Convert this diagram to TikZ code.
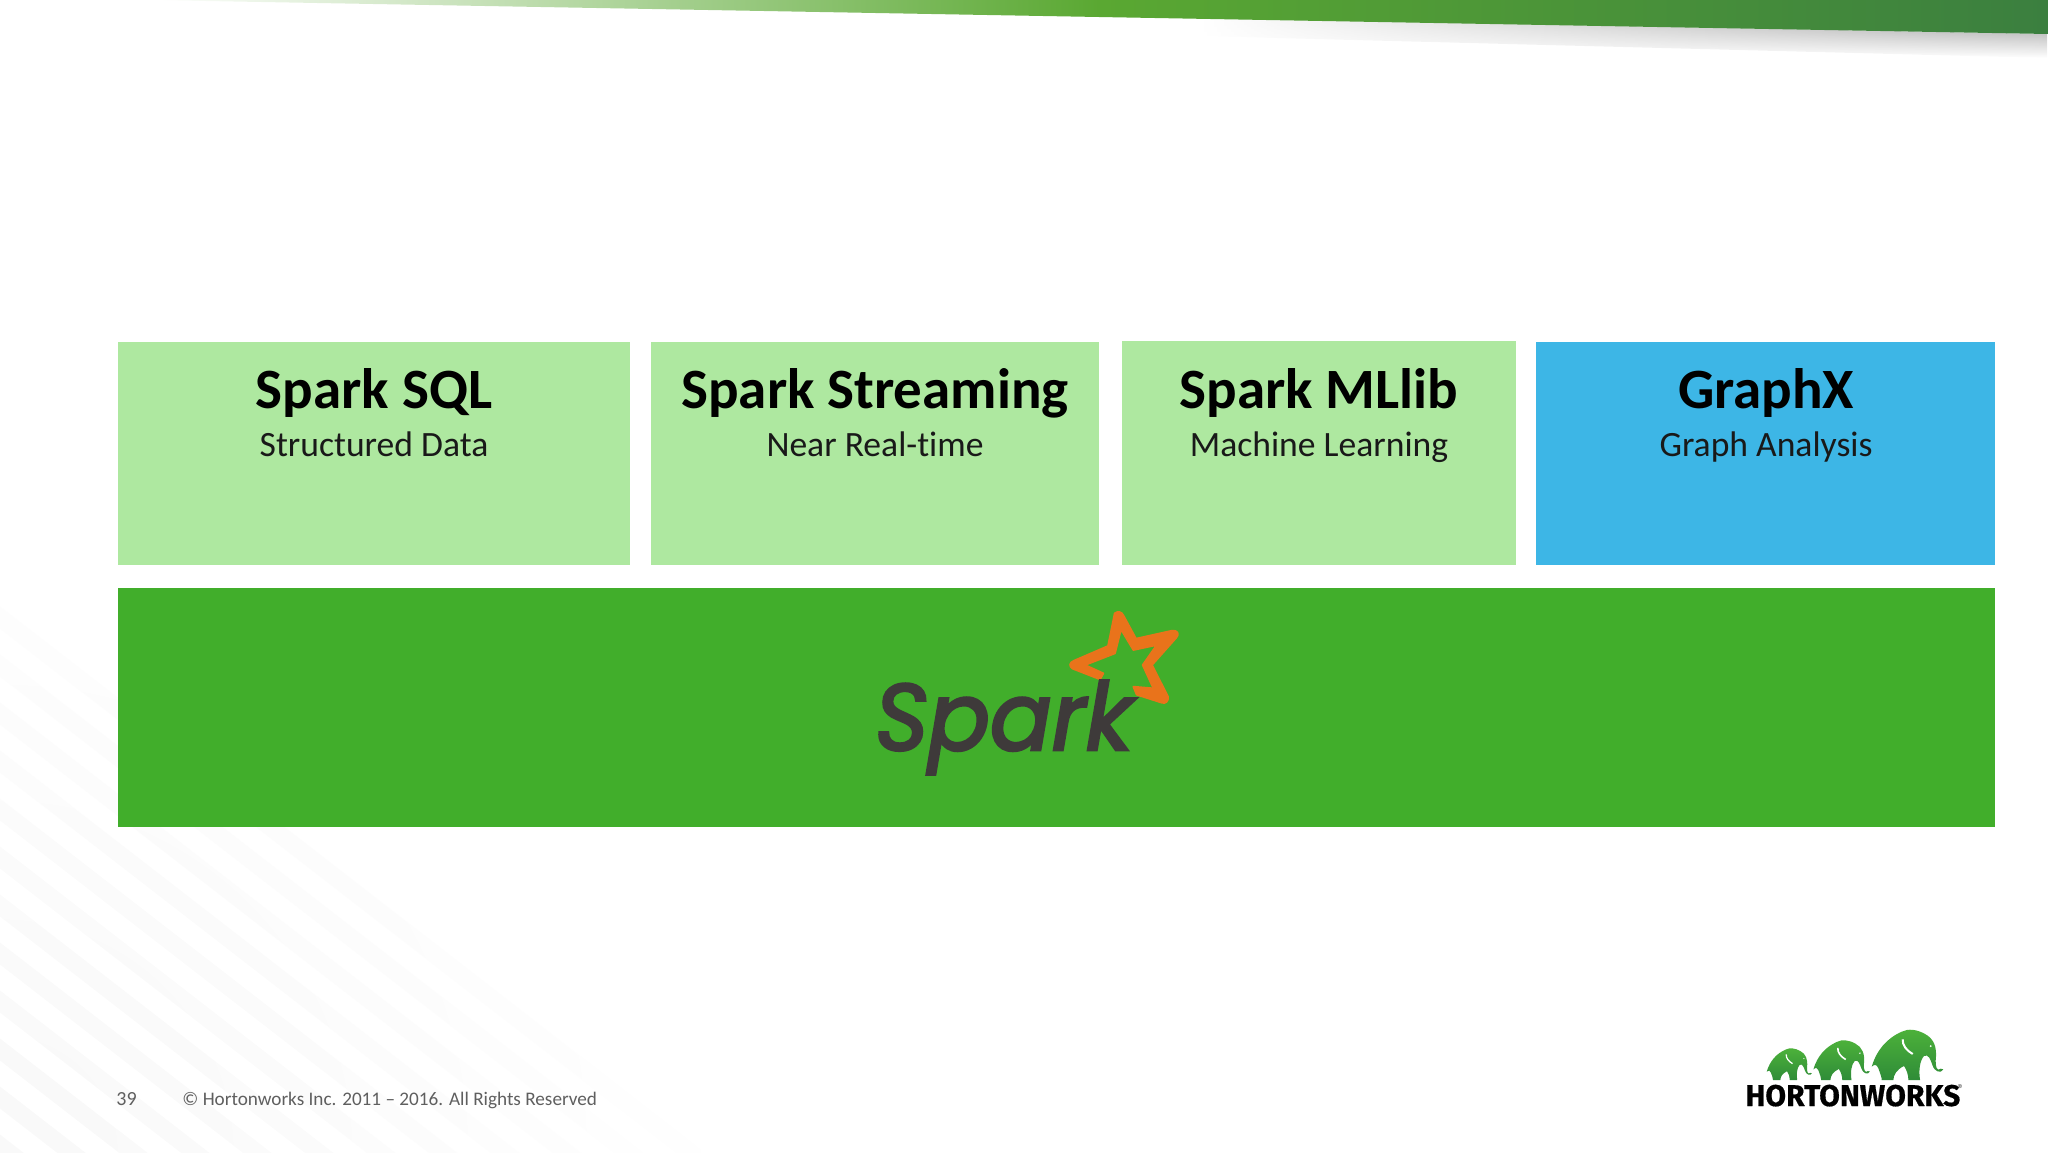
\documentclass[tikz,border=0pt]{standalone}
\usepackage{fontspec}
\setmainfont{Carlito}[Ligatures=NoCommon]
\newfontfamily\logofont{Poppins}[ItalicFeatures={FakeBold=3}]
\newfontfamily\hwfont{Fira Sans}[BoldFeatures={FakeBold=0.5}]
\usetikzlibrary{fadings}
\definecolor{lightgreen}{HTML}{AEE8A0}
\definecolor{skyblue}{HTML}{3DB6E6}
\definecolor{sparkgreen}{HTML}{41AE2B}
\definecolor{inkdark}{HTML}{3E3A3A}
\definecolor{starorange}{HTML}{E9731B}
\definecolor{footgray}{HTML}{5F5F5F}
\definecolor{bandmid}{HTML}{5AA832}
\definecolor{bandend}{HTML}{3B7F3F}
\definecolor{eletop}{HTML}{4DB23A}
\definecolor{elebot}{HTML}{2F8C38}
\tikzset{
  card/.style={fill=#1,draw=none,anchor=north west,inner sep=0,outer sep=0},
  title/.style={font=\fontsize{28.5}{30}\selectfont\bfseries,text=black,inner sep=0,anchor=base},
  subtitle/.style={font=\fontsize{17.8}{20}\selectfont,text=black!90,inner sep=0,anchor=base},
  foot/.style={font=\fontsize{9.6}{11}\selectfont,text=footgray,inner sep=0,anchor=base west},
}
\tikzfading[name=cornerreveal,inner color=transparent!100,outer color=transparent!0]
\newcommand{\elephant}[3]{%
\begin{scope}[shift={(#1,#2)},x=#3*0.16667pt,y=-#3*0.16667pt,shift={(-515,-210)}]
  \path[top color=eletop,bottom color=elebot,draw=none]
   (545,210) -- (580,210) .. controls (580,195) and (590,178) .. (612,168)
   .. controls (620,180) and (625,195) .. (625,210) -- (660,210)
   .. controls (655,180) and (660,150) .. (672,138)
   .. controls (685,130) and (692,150) .. (697,165)
   .. controls (703,185) and (722,192) .. (730,178) -- (722,176)
   .. controls (712,186) and (705,170) .. (707,150)
   .. controls (712,110) and (700,85) .. (675,72)
   .. controls (650,58) and (625,55) .. (605,65)
   .. controls (560,85) and (530,120) .. (515,170)
   .. controls (525,160) and (530,165) .. (535,175)
   .. controls (540,190) and (545,200) .. (545,210) -- cycle;
  \draw[white,line width=#3*1pt] (608,88) .. controls (606,105) and (620,122) .. (638,132);
  \fill[white] (692,108) circle (3);
\end{scope}}
\begin{document}
\begin{tikzpicture}[x=0.5pt,y=-0.5pt]
\useasboundingbox (0,0) rectangle (2048,1152);
% faint diagonal stripes, lower left
\begin{scope}
  \clip (0,1152) circle (700);
  \foreach \k in {0,...,22}{
    \fill[black!2.5] (-60,{560+\k*48}) -- (900,{1304+\k*48}) -- (900,{1326+\k*48}) -- (-60,{582+\k*48}) -- cycle;
  }
  \fill[white,path fading=cornerreveal] (0,1152) circle (701);
\end{scope}
% top band
\shade[top color=black!38,bottom color=white,path fading=west]
  (1200,18) -- (2048,34) -- (2048,58) -- (1200,36) -- cycle;
\shade[left color=white,right color=bandend,middle color=bandmid,draw=none]
  (150,0) -- (2048,0) -- (2048,34) -- cycle;
% cards
\node[card=lightgreen,minimum width=256pt,minimum height=111.5pt] (sql) at (118,342) {};
\node[card=lightgreen,minimum width=224pt,minimum height=111.5pt] (streaming) at (651,342) {};
\node[card=lightgreen,minimum width=197pt,minimum height=112pt] (mllib) at (1122,341) {};
\node[card=skyblue,minimum width=229.5pt,minimum height=111.5pt] (graphx) at (1536,342) {};
\node[card=sparkgreen,minimum width=938.5pt,minimum height=119.5pt] (spark) at (118,588) {};
\node[title] (t1) at (374,408) {Spark SQL};
\node[subtitle] (s1) at (374,456) {Structured Data};
\node[title] (t2) at (875,408) {Spark Streaming};
\node[subtitle] (s2) at (875,456) {Near Real-time};
\node[title] (t3) at (1319,408) {Spark MLlib};
\node[subtitle] (s3) at (1319,456) {Machine Learning};
\node[title] (t4) at (1766,408) {GraphX};
\node[subtitle] (s4) at (1766,456) {Graph Analysis};
% star of the logo
\begin{scope}[shift={(820,590)},x=0.16667pt,y=-0.16667pt]
  \filldraw[fill=starorange,draw=starorange,line width=0.9pt,even odd rule,line join=round]
    (884,70) .. controls (895,62) and (905,66) .. (910,76) -- (948,146) -- (1056,122)
    .. controls (1072,120) and (1080,132) .. (1068,144) -- (996,225) -- (1044,320)
    .. controls (1046,334) and (1036,342) .. (1025,338) -- (950,314) -- (940,290) -- (1000,295)
    -- (968,225) -- (1010,165) -- (940,180) -- (903,118) -- (885,190) -- (795,225) -- (850,250) -- (840,268)
    -- (758,236) .. controls (746,228) and (748,218) .. (762,212) -- (864,168) -- cycle;
\end{scope}
\node[font=\logofont\itshape\fontsize{47}{47}\selectfont,text=inkdark,inner sep=0,anchor=base west,xscale=0.97] (logo) at (875,750) {Spark};
% footer
\node[foot,font=\fontsize{10}{12}\selectfont] (num) at (116,1105) {39};
\node[foot] (copy) at (182,1105) {© Hortonworks Inc. 2011 – 2016. All Rights Reserved};
% Hortonworks logo
\elephant{1871.7}{1080}{1}
\elephant{1813.3}{1080}{0.79}
\elephant{1766.7}{1080}{0.63}
\node[font=\hwfont\bfseries\fontsize{15}{15}\selectfont,text=black,inner sep=0,anchor=base west] (hw) at (1745,1106) {HORTONWORKS};
\node[font=\hwfont\fontsize{4}{4}\selectfont,text=black!70,inner sep=0] (reg) at (1960,1087) {®};
\end{tikzpicture}
\end{document}
